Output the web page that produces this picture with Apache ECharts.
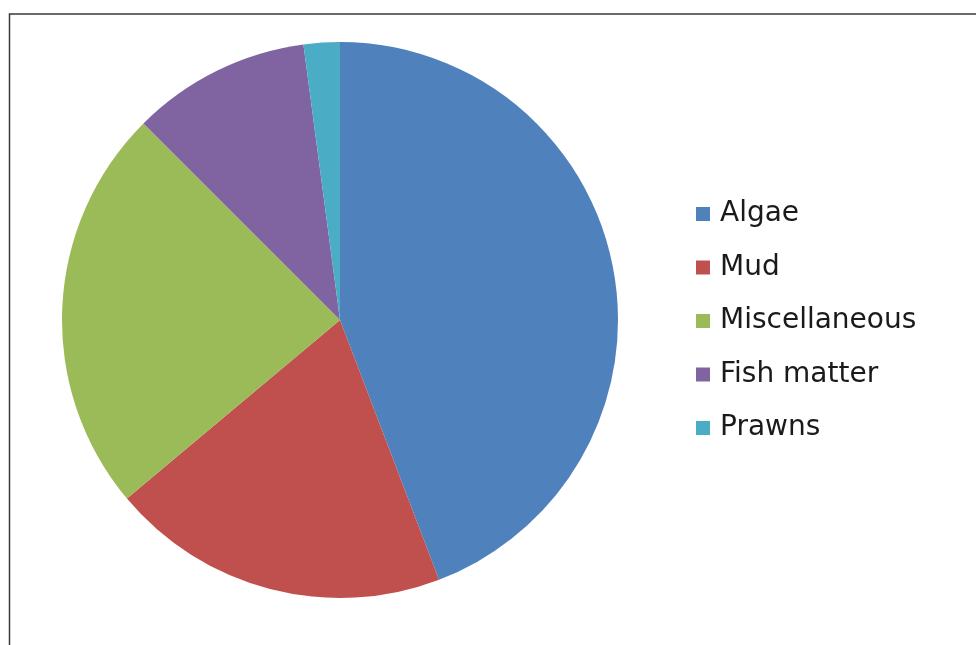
<!DOCTYPE html>
<html><head><meta charset="utf-8">
<script src="https://cdn.jsdelivr.net/npm/echarts@6/dist/echarts.min.js"></script>
<style>html,body{margin:0;padding:0;background:#fff}#c{width:976px;height:645px}</style>
</head><body><div id="c"></div>
<script>
const categories = ['Algae', 'Mud', 'Miscellaneous', 'Fish matter', 'Prawns'];
const values = [44.2, 19.7, 23.6, 10.4, 2.1];
const colors = ['#4F81BD', '#C0504D', '#9BBB59', '#8064A2', '#4BACC6'];

const chart = echarts.init(document.getElementById('c'), null, {renderer: 'canvas'});
chart.setOption({
  animation: false,
  backgroundColor: '#fff',
  color: colors,
  graphic: [{
    type: 'rect', silent: true,
    shape: {x: 9.5, y: 14, width: 1100, height: 800},
    style: {fill: 'none', stroke: '#3a3a3a', lineWidth: 1.5}
  }],
  legend: {
    orient: 'vertical',
    left: 696, top: 199,
    padding: 0,
    itemWidth: 14, itemHeight: 14,
    itemGap: 23.5,
    icon: 'rect',
    textStyle: {fontFamily: 'DejaVu Sans', fontSize: 28, lineHeight: 30, color: '#1a1a1a', padding: [0,0,0,5]},
    data: categories
  },
  series: [{
    type: 'pie',
    center: [340, 320],
    radius: 278,
    startAngle: 90,
    clockwise: true,
    label: {show: false},
    labelLine: {show: false},
    itemStyle: {borderWidth: 0},
    data: categories.map((n, i) => ({name: n, value: values[i]}))
  }]
});
</script></body></html>
